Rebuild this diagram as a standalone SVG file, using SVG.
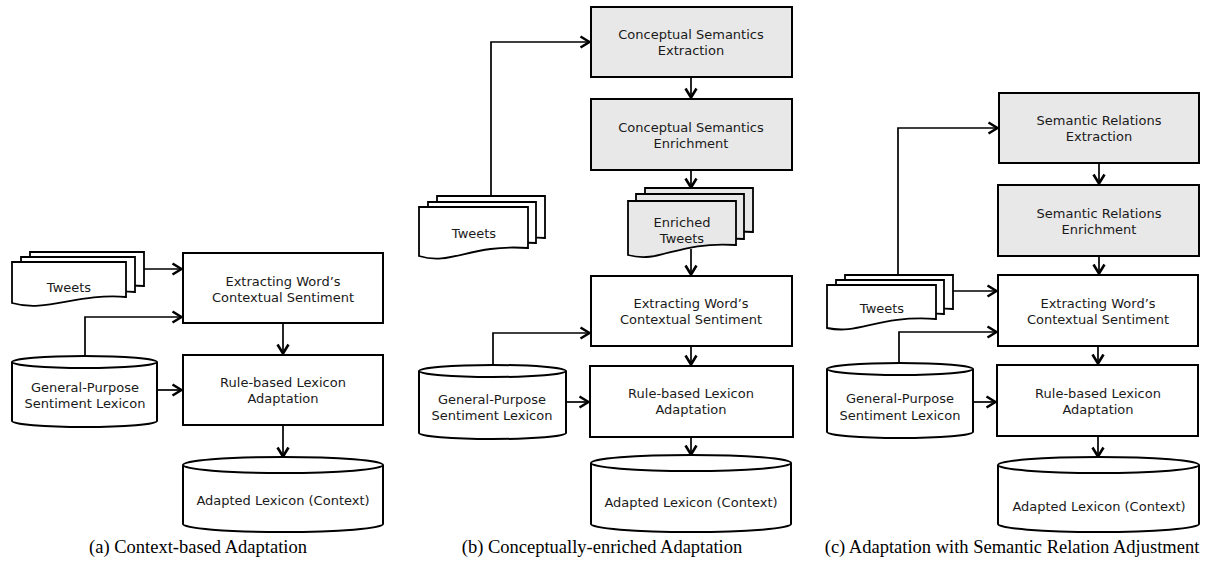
<svg xmlns="http://www.w3.org/2000/svg" width="1207" height="562" viewBox="0 0 1207 562">
<style>
.bx{fill:#fff;stroke:#000;stroke-width:2}
.g{fill:#e8e8e8}
.sh{fill:#fff;stroke:#000;stroke-width:1.8}
.shg{fill:#e8e8e8;stroke:#000;stroke-width:1.8}
.t{font-family:"DejaVu Sans",sans-serif;font-size:13px;fill:#1a1a1a;text-anchor:middle;dominant-baseline:central}
.cap{font-family:"Liberation Serif",serif;font-size:18.5px;fill:#000;text-anchor:middle}
.c{fill:none;stroke:#000;stroke-width:1.7;marker-end:url(#arr)}
</style>
<defs>
<marker id="arr" viewBox="0 0 12 14" refX="11" refY="7" markerUnits="userSpaceOnUse" markerWidth="12" markerHeight="14" orient="auto">
<path d="M1.5,1.5 L10.5,7 L1.5,12.5" fill="none" stroke="#000" stroke-width="2.6"/>
</marker>
</defs>
<rect width="1207" height="562" fill="#fff"/>

<!-- Panel a -->
<g id="a-tweets">
<path class="sh" d="M30,252 H144 V286 C94.7,282 64.2,303 30,293 Z"/>
<path class="sh" d="M21,257 H135 V292 C85.7,288 55.2,308 21,298 Z"/>
<path class="sh" d="M12,262 H126 V297 C76.7,293 46.2,313 12,303 Z"/>
<text class="t" x="69" y="287">Tweets</text>
</g>
<g id="a-extract">
<rect class="bx" x="183" y="253" width="200" height="70"/>
<text class="t" x="283" y="281">Extracting Word’s</text>
<text class="t" x="283" y="297">Contextual Sentiment</text>
</g>
<g id="a-lexicon">
<path class="bx" d="M12,362 A72.5,6 0 0 1 157,362 V421 A72.5,6 0 0 1 12,421 Z"/>
<path fill="none" stroke="#000" stroke-width="2" d="M12,362 A72.5,6 0 0 0 157,362"/>
<text class="t" x="85" y="387">General-Purpose</text>
<text class="t" x="85" y="403">Sentiment Lexicon</text>
</g>
<g id="a-rule">
<rect class="bx" x="183" y="355" width="200" height="70"/>
<text class="t" x="283" y="382">Rule-based Lexicon</text>
<text class="t" x="283" y="398">Adaptation</text>
</g>
<g id="a-adapted">
<path class="bx" d="M183,465 A100,8 0 0 1 383,465 V524 A100,8 0 0 1 183,524 Z"/>
<path fill="none" stroke="#000" stroke-width="2" d="M183,465 A100,8 0 0 0 383,465"/>
<text class="t" x="283" y="500">Adapted Lexicon (Context)</text>
</g>
<text class="cap" x="198" y="553">(a) Context-based Adaptation</text>

<!-- Panel b -->
<g id="b-cse">
<rect class="bx g" x="591" y="7" width="201" height="70"/>
<text class="t" x="691" y="34">Conceptual Semantics</text>
<text class="t" x="691" y="50">Extraction</text>
</g>
<g id="b-csen">
<rect class="bx g" x="591" y="99" width="201" height="71"/>
<text class="t" x="691" y="127">Conceptual Semantics</text>
<text class="t" x="691" y="143">Enrichment</text>
</g>
<g id="b-tweets">
<path class="sh" d="M437,196 H545 V238 C485.6,234 469.4,254 437,245 Z"/>
<path class="sh" d="M428,202 H536 V243 C476.6,239 460.4,260 428,251 Z"/>
<path class="sh" d="M419,207 H528 V248 C469,244 451.7,266 419,256 Z"/>
<text class="t" x="474" y="233">Tweets</text>
</g>
<g id="b-enriched">
<path class="shg" d="M645,188 H753 V232 C693.6,228 677.4,250 645,242 Z"/>
<path class="shg" d="M636,194 H744 V239 C684.6,235 668.4,257 636,249 Z"/>
<path class="shg" d="M628,201 H736 V245 C676.6,241 660.4,264 628,255 Z"/>
<text class="t" x="682" y="222">Enriched</text>
<text class="t" x="682" y="238">Tweets</text>
</g>
<g id="b-extract">
<rect class="bx" x="591" y="276" width="201" height="70"/>
<text class="t" x="691" y="303">Extracting Word’s</text>
<text class="t" x="691" y="319">Contextual Sentiment</text>
</g>
<g id="b-lexicon">
<path class="bx" d="M419,371 A73.5,6 0 0 1 566,371 V433 A73.5,6 0 0 1 419,433 Z"/>
<path fill="none" stroke="#000" stroke-width="2" d="M419,371 A73.5,6 0 0 0 566,371"/>
<text class="t" x="492" y="399">General-Purpose</text>
<text class="t" x="492" y="415">Sentiment Lexicon</text>
</g>
<g id="b-rule">
<rect class="bx" x="590" y="366" width="203" height="71"/>
<text class="t" x="691" y="393">Rule-based Lexicon</text>
<text class="t" x="691" y="409">Adaptation</text>
</g>
<g id="b-adapted">
<path class="bx" d="M591,463 A100,8 0 0 1 791,463 V524 A100,8 0 0 1 591,524 Z"/>
<path fill="none" stroke="#000" stroke-width="2" d="M591,463 A100,8 0 0 0 791,463"/>
<text class="t" x="691" y="502">Adapted Lexicon (Context)</text>
</g>
<text class="cap" x="602" y="553">(b) Conceptually-enriched Adaptation</text>

<!-- Panel c -->
<g id="c-sre">
<rect class="bx g" x="999" y="93" width="200" height="70"/>
<text class="t" x="1099" y="120">Semantic Relations</text>
<text class="t" x="1099" y="136">Extraction</text>
</g>
<g id="c-sren">
<rect class="bx g" x="998" y="185" width="201" height="71"/>
<text class="t" x="1099" y="213">Semantic Relations</text>
<text class="t" x="1099" y="229">Enrichment</text>
</g>
<g id="c-tweets">
<path class="sh" d="M845,275 H953 V309 C893.6,305 877.4,325 845,318 Z"/>
<path class="sh" d="M836,280 H944 V314 C884.6,310 868.4,330 836,323 Z"/>
<path class="sh" d="M827,285 H936 V319 C877,315 859.7,335 827,328 Z"/>
<text class="t" x="882" y="308">Tweets</text>
</g>
<g id="c-extract">
<rect class="bx" x="998" y="275" width="200" height="71"/>
<text class="t" x="1098" y="303">Extracting Word’s</text>
<text class="t" x="1098" y="319">Contextual Sentiment</text>
</g>
<g id="c-lexicon">
<path class="bx" d="M827,369 A73,6 0 0 1 973,369 V432 A73,6 0 0 1 827,432 Z"/>
<path fill="none" stroke="#000" stroke-width="2" d="M827,369 A73,6 0 0 0 973,369"/>
<text class="t" x="900" y="398">General-Purpose</text>
<text class="t" x="900" y="415">Sentiment Lexicon</text>
</g>
<g id="c-rule">
<rect class="bx" x="997" y="365" width="201" height="71"/>
<text class="t" x="1098" y="393">Rule-based Lexicon</text>
<text class="t" x="1098" y="409">Adaptation</text>
</g>
<g id="c-adapted">
<path class="bx" d="M998,465 A100.5,8 0 0 1 1199,465 V524 A100.5,8 0 0 1 998,524 Z"/>
<path fill="none" stroke="#000" stroke-width="2" d="M998,465 A100.5,8 0 0 0 1199,465"/>
<text class="t" x="1099" y="506">Adapted Lexicon (Context)</text>
</g>
<text class="cap" x="1012" y="553">(c) Adaptation with Semantic Relation Adjustment</text>

<g id="connectors">
<path class="c" d="M144,269 H182"/>
<path class="c" d="M85,356 V317 H182"/>
<path class="c" d="M283,323 V354"/>
<path class="c" d="M157,390 H182"/>
<path class="c" d="M283,425 V457"/>

<path class="c" d="M491,196 V42 H590"/>
<path class="c" d="M691,77 V98"/>
<path class="c" d="M691,170 V188"/>
<path class="c" d="M691,249 V275"/>
<path class="c" d="M493,365 V333 H590"/>
<path class="c" d="M566,402 H589"/>
<path class="c" d="M691,346 V365"/>
<path class="c" d="M691,437 V455"/>

<path class="c" d="M898,275 V128 H998"/>
<path class="c" d="M1099,163 V184"/>
<path class="c" d="M1099,256 V274"/>
<path class="c" d="M953,291 H997"/>
<path class="c" d="M899,363 V332 H997"/>
<path class="c" d="M1098,346 V364"/>
<path class="c" d="M973,402 H996"/>
<path class="c" d="M1098,436 V457"/>
</g>
</svg>
